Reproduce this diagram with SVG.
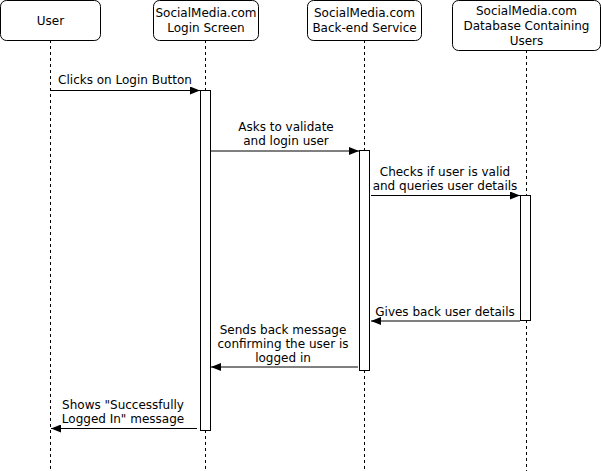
<svg xmlns="http://www.w3.org/2000/svg" width="601" height="471" viewBox="0 0 601 471">
<style>
.box{fill:#fff;stroke:#000;stroke-width:1}
.life{stroke:#000;stroke-width:1;stroke-dasharray:3 3;fill:none}
.act{fill:#fff;stroke:#000;stroke-width:1}
.msg{stroke:#000;stroke-width:1;fill:none}
text{font-family:"DejaVu Sans",Verdana,sans-serif;font-size:12px;fill:#000;text-anchor:middle}
</style>
<defs>
<marker id="ah" viewBox="0 0 10 8" refX="10" refY="4" markerWidth="10" markerHeight="8" markerUnits="userSpaceOnUse" orient="auto">
<path d="M0,0 L10,4 L0,8 Z" fill="#000"/>
</marker>
</defs>
<rect width="601" height="471" fill="#fff"/>
<g id="lifelines">
<line class="life" x1="50.5" y1="40" x2="50.5" y2="471"/>
<line class="life" x1="205.5" y1="40" x2="205.5" y2="471"/>
<line class="life" x1="364.5" y1="40" x2="364.5" y2="471"/>
<line class="life" x1="526.5" y1="50" x2="526.5" y2="471"/>
</g>
<g id="user"><rect class="box" x="0.5" y="0.5" width="100" height="40" rx="6"/><text x="50.5" y="25">User</text></g>
<g id="login"><rect class="box" x="153.5" y="0.5" width="105" height="40" rx="6" stroke="#555"/><text x="206" y="17">SocialMedia.com</text><text x="206" y="32">Login Screen</text></g>
<g id="backend"><rect class="box" x="307.5" y="0.5" width="114" height="40" rx="6"/><text x="364.5" y="17">SocialMedia.com</text><text x="364.5" y="32">Back-end Service</text></g>
<g id="database"><rect class="box" x="452.5" y="0.5" width="148" height="50" rx="6"/><text x="526.5" y="15">SocialMedia.com</text><text x="526.5" y="30">Database Containing</text><text x="526.5" y="45">Users</text></g>
<g id="activations">
<rect class="act" x="200.5" y="90.5" width="10" height="340"/>
<rect class="act" x="359.5" y="150.5" width="10" height="220"/>
<rect class="act" x="520.5" y="195.5" width="10" height="125"/>
</g>
<g id="connectors">
<line class="msg" x1="50.5" y1="90.5" x2="200" y2="90.5" marker-end="url(#ah)"/>
<line class="msg" x1="211" y1="151" x2="359" y2="151" marker-end="url(#ah)"/>
<line class="msg" x1="371" y1="195.5" x2="520" y2="195.5" marker-end="url(#ah)"/>
<line class="msg" x1="520" y1="321" x2="371" y2="321" marker-end="url(#ah)"/>
<line class="msg" x1="358" y1="367" x2="211" y2="367" marker-end="url(#ah)"/>
<line class="msg" x1="197" y1="428.5" x2="51" y2="428.5" marker-end="url(#ah)"/>
</g>
<g id="labels">
<text x="125" y="84">Clicks on Login Button</text>
<text x="286" y="131">Asks to validate</text>
<text x="286" y="145">and login user</text>
<text x="445" y="176">Checks if user is valid</text>
<text x="445" y="190">and queries user details</text>
<text x="445" y="316">Gives back user details</text>
<text x="283" y="334">Sends back message</text>
<text x="283" y="348">confirming the user is</text>
<text x="283" y="362">logged in</text>
<text x="123" y="409">Shows "Successfully</text>
<text x="123" y="423">Logged In" message</text>
</g>
</svg>
